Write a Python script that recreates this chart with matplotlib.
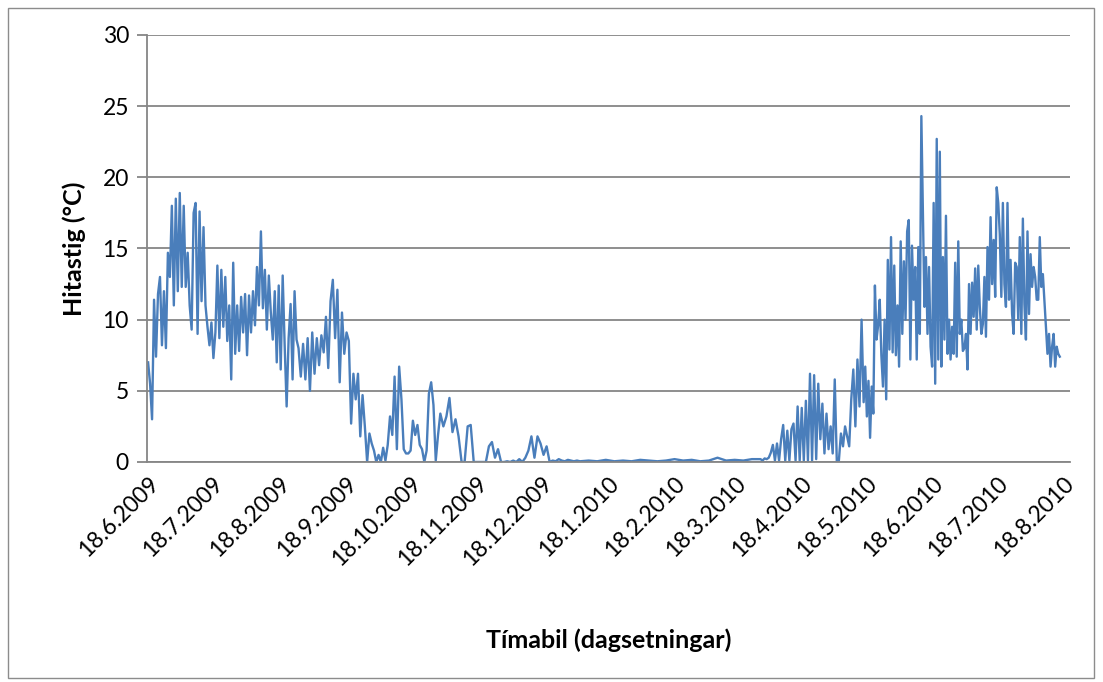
import numpy as np
import matplotlib.pyplot as plt
from matplotlib.patches import Rectangle

plt.rcParams['font.family'] = ['Lato', 'DejaVu Sans']

# ---------------- DATA ---------------- #
start = np.datetime64('2009-06-18')

# (first day, last day) after 18.6.2009 for each block of readings
summer09_days = (0, 70)
summer09 = [7, 5.5, 3, 11.4, 7.4, 11.8, 13, 8.2, 12, 8, 14.7, 13, 18, 11,
            18.5, 12, 18.9, 12.3, 18, 12.3, 14.7, 11, 9.3, 17.5, 18.2, 9,
            17.6, 11.3, 16.5, 11, 9.5, 8.2, 9.8, 7.3, 9.1, 13.8, 8.7, 13.5,
            9.5, 13, 8.5, 11, 5.8, 14, 7.6, 11, 7.8, 11.6, 9.1, 11.8, 7.5,
            11.7, 9.1, 12, 9.6, 13.7, 11, 16.2, 10.8, 13.5, 9.3, 13.1, 10.5,
            8.6, 12, 7, 12.4, 6.5, 13.1, 8.2, 3.9, 8.7, 11.1, 5.8, 12, 8.6]

autumn09_days = (70, 136)
autumn09 = [8, 6, 8.3, 5.8, 8.7, 5, 9.1, 6.2, 8.7, 6.8, 8.9, 7.7, 10.2, 6.6,
            11.3, 12.8, 8.7, 12.1, 5.6, 10.5, 7.6, 9.1, 8.5, 2.7, 6.2, 4.4,
            6.2, 1.8, 4.7, 2.5, 0, 2, 1.3, 0.8, 0, 0.5, 0, 1, 0.1, 1.2, 3.2,
            1.9, 6, 0.9, 6.7, 4.4, 0.9, 0.6, 0.6, 0.8, 2.9, 1.9, 2.6, 1.2,
            0.9, 0, 0.8, 4.8, 5.6, 4, 0.1, 1.9]

late09_days = (136, 201)
late09 = [3.4, 2.5, 3.2, 4.5, 2.1, 3, 1.8, 0, 0, 2.5, 2.6, 0, 0, 0, 0, 0,
          1.1, 1.4, 0.3, 0.9, 0, 0, 0.05, 0, 0.1, 0, 0.2, 0, 0.3, 0.8, 1.8,
          0.3, 1.8, 1.3, 0.5, 1.1, 0, 0.1, 0.05, 0.2, 0.1, 0.05, 0.15, 0.1,
          0.05, 0.1]

winter_days = (201, 285)
winter = [0.05, 0.1, 0.05, 0.15, 0.05, 0.1, 0.05, 0.15, 0.1, 0.05, 0.1, 0.2,
          0.1, 0.15, 0.05, 0.1, 0.3, 0.1, 0.15, 0.1, 0.2]

spring10_days = (285, 333)
spring10 = [0.2, 0.1, 0.25, 0.2, 0.3, 0.65, 1.2, 0.1, 1.3, 0.1, 1.6, 2.6, 0.1,
            2.2, 0.1, 2.3, 2.7, 0.1, 3.9, 0.1, 3.8, 0.1, 4.3, 0.1, 6.2, 0.1,
            6.1, 0.2, 5.5, 1.6, 4.1, 0.6, 3.4, 0.9, 2.5, 0.6, 5.8, 0, 0.1, 2,
            1.1, 2.5, 1.8, 1.1, 4.4, 6.5, 2.5, 7.2, 3.9, 10]

early10_days = (333, 357)
early10 = [4.2, 6.7, 3.2, 5.7, 1.7, 5.3, 3.4, 12.4, 8.6, 9.6, 11.4, 7.5, 5.3,
           10, 4.4, 14.2, 7.9, 15.8, 7.7, 13.8, 7.5, 11, 6.7, 15.5, 9, 14.1,
           10, 16.2, 17, 7.2, 15.2, 11.4]

summer10_days = (357, 425)
summer10 = [13.7, 7.2, 15.1, 9, 24.3, 17.7, 10.9, 14.4, 9, 13.7, 8.1, 6.7,
            18.2, 5.5, 22.7, 7.2, 21.8, 6.7, 14.4, 8.6, 17.3, 7.6, 10, 7.2,
            9.5, 7.6, 14, 7.4, 15.5, 9, 10, 7.8, 8, 9, 6.5, 12.5, 9, 12.6,
            10.2, 13.6, 9.3, 13.8, 10.9, 9, 9.7, 13, 8.8, 15.1, 11.4, 17.2,
            12.5, 15.6, 11.6, 19.3, 18.2, 16, 11.6, 18.2, 12.5, 10.9, 18.2,
            11.4, 14.2, 10.4, 9, 14, 13.7, 10, 15.8, 9, 17.1, 11.1, 8.6, 16.2,
            10.4, 14.6, 12.3, 13.7, 13, 11.4, 11.4, 15.8, 12.3, 13.2, 11.4,
            9.5, 7.6, 9, 6.7, 8.1, 9, 6.7, 8.1, 7.6, 7.4]

blocks = [(summer09_days, summer09), (autumn09_days, autumn09),
          (late09_days, late09), (winter_days, winter),
          (spring10_days, spring10), (early10_days, early10),
          (summer10_days, summer10)]

tick_labels = ['18.6.2009', '18.7.2009', '18.8.2009', '18.9.2009',
               '18.10.2009', '18.11.2009', '18.12.2009', '18.1.2010',
               '18.2.2010', '18.3.2010', '18.4.2010', '18.5.2010',
               '18.6.2010', '18.7.2010', '18.8.2010']
tick_dates = ['2009-06-18', '2009-07-18', '2009-08-18', '2009-09-18',
              '2009-10-18', '2009-11-18', '2009-12-18', '2010-01-18',
              '2010-02-18', '2010-03-18', '2010-04-18', '2010-05-18',
              '2010-06-18', '2010-07-18', '2010-08-18']

days = []
temps = []
for (d0, d1), vals in blocks:
    days.extend(np.linspace(d0, d1, len(vals), endpoint=False))
    temps.extend(vals)
dates = start + (np.array(days) * 24 * 3600).astype('timedelta64[s]')

# ---------------- PLOT ---------------- #
fig = plt.figure(figsize=(11.03, 6.82), dpi=100)
ax = fig.add_axes([0.1333, 0.3226, 0.8367, 0.6261])

fig.patches.append(Rectangle((8 / 1103, 4 / 682), 1086 / 1103, 670 / 682,
                             transform=fig.transFigure, fill=False,
                             edgecolor='#8c8c8c', linewidth=1.0))

ax.plot(dates, temps, color='#4A7EBB', linewidth=1.7)

ax.set_ylim(0, 30)
ax.set_yticks(range(0, 31, 5))
ax.set_xlim(start - np.timedelta64(12, 'h'), start + np.timedelta64(429, 'D'))
ax.set_xticks([np.datetime64(d) for d in tick_dates])
ax.set_xticklabels(tick_labels, rotation=45, ha='right', va='top',
                   rotation_mode='anchor')

ax.grid(axis='y', color='#868686', linewidth=1.3)
ax.set_axisbelow(True)
for side in ['top', 'right']:
    ax.spines[side].set_visible(False)
for side in ['left', 'bottom']:
    ax.spines[side].set_color('#868686')
    ax.spines[side].set_linewidth(1.3)

ax.tick_params(axis='y', length=7, width=1.3, color='#868686', labelsize=16.5,
               pad=6)
ax.tick_params(axis='x', length=0, labelsize=16.5, pad=8)

ax.set_ylabel('Hitastig (°C)', fontsize=18, fontweight='bold', labelpad=12)
ax.set_xlabel('Tímabil (dagsetningar)', fontsize=18, fontweight='bold',
              labelpad=42)

fig.savefig('out.png', dpi=100)
